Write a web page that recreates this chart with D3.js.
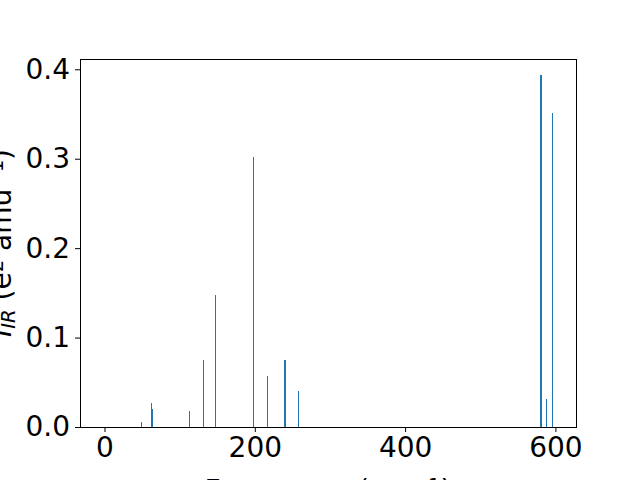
<!DOCTYPE html>
<html>
<head>
<meta charset="utf-8">
<script src="https://cdn.jsdelivr.net/npm/d3@7"></script>
<style>
  body { margin: 0; background: #fff; }
  svg { display: block; font-family: "DejaVu Sans", sans-serif; }
</style>
</head>
<body>
<div id="chart"></div>
<script>
// stick spectrum
var freqs = [49.5, 62.2, 63.8, 112.8, 131.4, 147.3, 197.9, 216.5, 239.4, 240.7, 257.7, 579.8, 581.1, 588.8, 595.5];
var intensities = [0.006, 0.027, 0.0204, 0.0182, 0.0752, 0.148, 0.302, 0.0573, 0.075, 0.075, 0.0406, 0.3936, 0.3936, 0.0316, 0.351];
var xTicks = [0, 200, 400, 600];
var yTicks = [0.0, 0.1, 0.2, 0.3, 0.4];

var W = 640, H = 480;
var margin = {left: 80, right: 64, top: 59, bottom: 53};
var fs = 28;

var svg = d3.select('#chart').append('svg')
  .attr('width', W).attr('height', H);

var x = d3.scaleLinear().domain([-32.6, 627.4]).range([margin.left, W - margin.right]);
var y = d3.scaleLinear().domain([0, 0.4115]).range([H - margin.bottom, margin.top]);

var data = freqs.map(function(f, i) { return {f: f, v: intensities[i]}; });

svg.append('g').selectAll('rect')
  .data(data)
  .enter().append('rect')
  .attr('x', function(d) { return Math.floor(x(d.f)); })
  .attr('width', 1)
  .attr('y', function(d) { return y(d.v); })
  .attr('height', function(d) { return y(0) - y(d.v); })
  .attr('fill', '#1f77b4')
  .attr('shape-rendering', 'crispEdges');

var xAxis = svg.append('g')
  .attr('transform', 'translate(0,' + (H - margin.bottom) + ')')
  .call(d3.axisBottom(x).tickValues(xTicks).tickSize(5).tickPadding(5).tickFormat(d3.format('d')));
var yAxis = svg.append('g')
  .attr('transform', 'translate(' + margin.left + ',0)')
  .call(d3.axisLeft(y).tickValues(yTicks).tickSize(5).tickPadding(5).tickFormat(d3.format('.1f')));

[xAxis, yAxis].forEach(function(a) {
  a.select('.domain').remove();
  a.selectAll('text').attr('font-size', fs).attr('fill', '#000')
    .attr('font-family', '"DejaVu Sans", sans-serif');
  a.selectAll('line').attr('stroke', '#000');
});

// frame
svg.append('rect')
  .attr('x', margin.left).attr('y', margin.top)
  .attr('width', W - margin.left - margin.right)
  .attr('height', H - margin.top - margin.bottom)
  .attr('fill', 'none').attr('stroke', '#000').attr('stroke-width', 1)
  .attr('shape-rendering', 'crispEdges');

// x label (mostly below the window, as in the reference)
var xl = svg.append('text')
  .attr('x', (margin.left + W - margin.right) / 2)
  .attr('y', 500)
  .attr('text-anchor', 'middle')
  .attr('font-size', fs);
xl.append('tspan').text('Frequency (cm');
xl.append('tspan').attr('baseline-shift', '40%').attr('font-size', fs * 0.7).text('\u22121');
xl.append('tspan').text(')');

// y label (mostly left of the window)
var yl = svg.append('text')
  .attr('transform', 'translate(11,' + (margin.top + (H - margin.top - margin.bottom) / 2) + ') rotate(-90)')
  .attr('text-anchor', 'middle')
  .attr('font-size', fs);
yl.append('tspan').attr('font-style', 'italic').text('I');
yl.append('tspan').attr('font-style', 'italic').attr('baseline-shift', '-20%').attr('font-size', fs * 0.7).text('IR');
yl.append('tspan').text(' (e');
yl.append('tspan').attr('baseline-shift', '40%').attr('font-size', fs * 0.7).text('2');
yl.append('tspan').text(' amu');
yl.append('tspan').attr('baseline-shift', '40%').attr('font-size', fs * 0.7).text('\u22121');
yl.append('tspan').text(')');
</script>
</body>
</html>
